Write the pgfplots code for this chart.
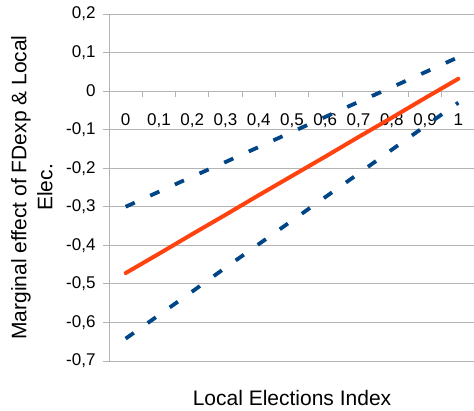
\documentclass[border=0pt]{standalone}
\usepackage{pgfplots}
\pgfplotsset{compat=1.18}
\usepackage{fontspec}
\setmainfont{Liberation Sans}
\definecolor{gridgray}{HTML}{B3B3B3}
\definecolor{lorange}{HTML}{FF420E}
\definecolor{lblue}{HTML}{004586}
\begin{document}
\begin{tikzpicture}
\begin{axis}[
  scale only axis,
  width=366pt, height=347pt,
  xmin=-0.5, xmax=10.5,
  ymin=-0.7, ymax=0.2,
  axis x line=middle,
  axis y line=left,
  axis line style={-, draw=gridgray, line width=0.8pt},
  xtick={0,1,...,10},
  xticklabels={0,{0,1},{0,2},{0,3},{0,4},{0,5},{0,6},{0,7},{0,8},{0,9},1},
  x tick style={draw=none},
  minor xtick={0.5,1.5,...,10.5},
  minor x tick style={draw=gridgray, line width=0.8pt, yshift=-3pt},
  minor tick length=6pt,
  xticklabel style={font=\fontsize{17}{20}\selectfont, yshift=-16pt},
  ytick={-0.7,-0.6,...,0.2},
  yticklabels={{-0,7},{-0,6},{-0,5},{-0,4},{-0,3},{-0,2},{-0,1},0,{0,1},{0,2}},
  y tick style={draw=gridgray, line width=0.8pt},
  major tick length=6pt,
  ytick align=outside,
  yticklabel style={font=\fontsize{17}{20}\selectfont, xshift=-4pt},
  ymajorgrids,
  grid style={draw=gridgray, line width=0.8pt},
  xlabel={Local Elections Index},
  xlabel style={at={(axis description cs:0.5,-0.1066)}, anchor=center, font=\fontsize{21}{25}\selectfont},
  ylabel={Marginal effect of FDexp \& Local\\Elec.},
  ylabel style={at={(axis description cs:-0.2104,0.5)}, anchor=center, align=center, font=\fontsize{21}{26}\selectfont},
  clip=false,
]
\addplot[lblue, line width=3.8pt, dash pattern=on 10pt off 17pt] coordinates {
(0,-0.300) (1,-0.261) (2,-0.222) (3,-0.184) (4,-0.145) (5,-0.106) (6,-0.067) (7,-0.028) (8,0.010) (9,0.049) (10,0.088)};
\addplot[lblue, line width=3.8pt, dash pattern=on 10pt off 17pt] coordinates {
(0,-0.642) (1,-0.581) (2,-0.520) (3,-0.458) (4,-0.397) (5,-0.336) (6,-0.275) (7,-0.214) (8,-0.152) (9,-0.091) (10,-0.030)};
\addplot[lorange, line width=4pt, line cap=round] coordinates {
(0,-0.472) (1,-0.422) (2,-0.371) (3,-0.321) (4,-0.270) (5,-0.220) (6,-0.170) (7,-0.119) (8,-0.069) (9,-0.018) (10,0.032)};
\coordinate (sw) at (rel axis cs:0,0);
\coordinate (ne) at (rel axis cs:1,1);
\end{axis}
\pgfresetboundingbox
\path[use as bounding box] ([shift={(-109pt,-50pt)}]sw) rectangle ([shift={(-1pt,14pt)}]ne);
\end{tikzpicture}
\end{document}
